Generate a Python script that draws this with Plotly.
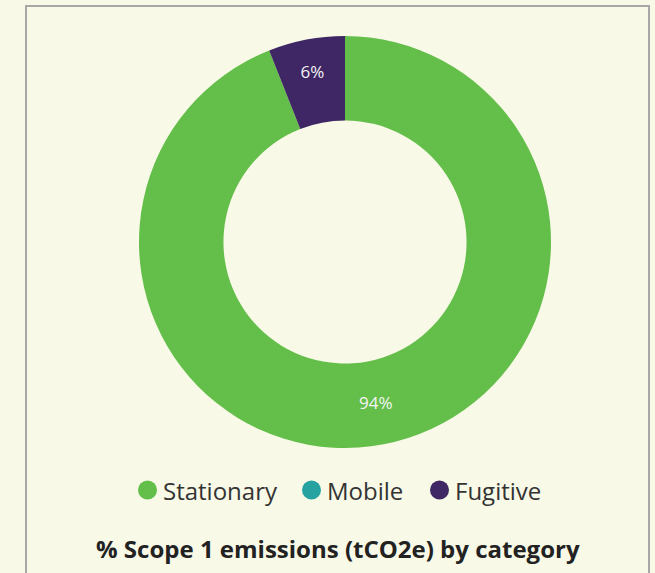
import plotly.graph_objects as go

# ---- data ----
categories = ["Stationary", "Mobile", "Fugitive"]
values = [94, 0, 6]
colors = ["#64bf4a", "#26a3a0", "#3e2764"]
title_text = "% Scope 1 emissions (tCO2e) by category"

# ---- layout constants (pixels) ----
W, H = 655, 573
BG = "#f8f9e7"
FONT = "Open Sans"
cx, cy, R = 345, 242, 206
legend_y = 490
legend_marker_x = [147.5, 311.5, 439.5]

def px(x):
    return x / W

def py(y):
    return 1 - y / H

fig = go.Figure()
fig.add_trace(go.Pie(
    labels=categories,
    values=values,
    marker=dict(colors=colors, line=dict(width=0)),
    hole=0.59,
    sort=False,
    direction="clockwise",
    rotation=0,
    textinfo="percent",
    texttemplate="%{percent:.0%}",
    textposition="inside",
    insidetextorientation="horizontal",
    textfont=dict(family=FONT, size=17, color="#f4f4f4"),
    showlegend=False,
    domain=dict(x=[px(cx - R), px(cx + R)], y=[py(cy + R), py(cy - R)]),
    hoverinfo="label+percent",
))

shapes = [
    dict(type="rect", xref="paper", yref="paper",
         x0=px(26), x1=px(649), y0=py(620), y1=py(6),
         line=dict(color="#a8a8a8", width=2), fillcolor="rgba(0,0,0,0)", layer="above"),
]
annotations = []
for name, col, mx in zip(categories, colors, legend_marker_x):
    shapes.append(dict(type="circle", xref="paper", yref="paper",
                       xsizemode="pixel", ysizemode="pixel",
                       xanchor=px(mx), yanchor=py(legend_y),
                       x0=-9.5, x1=9.5, y0=-9.5, y1=9.5,
                       fillcolor=col, line=dict(width=0)))
    annotations.append(dict(text=name, xref="paper", yref="paper",
                            x=px(mx + 13), y=py(legend_y), xanchor="left", yanchor="middle",
                            showarrow=False, font=dict(family=FONT, size=24, color="#333333")))

annotations.append(dict(text="<b>" + title_text + "</b>", xref="paper", yref="paper",
                        x=px(337.5), y=py(548), xanchor="center", yanchor="middle",
                        showarrow=False, font=dict(family=FONT, size=24, color="#222222")))

fig.update_layout(
    width=W, height=H,
    margin=dict(l=0, r=0, t=0, b=0),
    paper_bgcolor=BG, plot_bgcolor=BG,
    shapes=shapes, annotations=annotations,
    showlegend=False,
)

fig.write_html(
    "out.html",
    config={"displayModeBar": False},
    post_script=(
        "document.body.style.margin='0';"
        "document.body.style.overflow='hidden';"
        "document.body.style.background='" + BG + "';"
    ),
)
